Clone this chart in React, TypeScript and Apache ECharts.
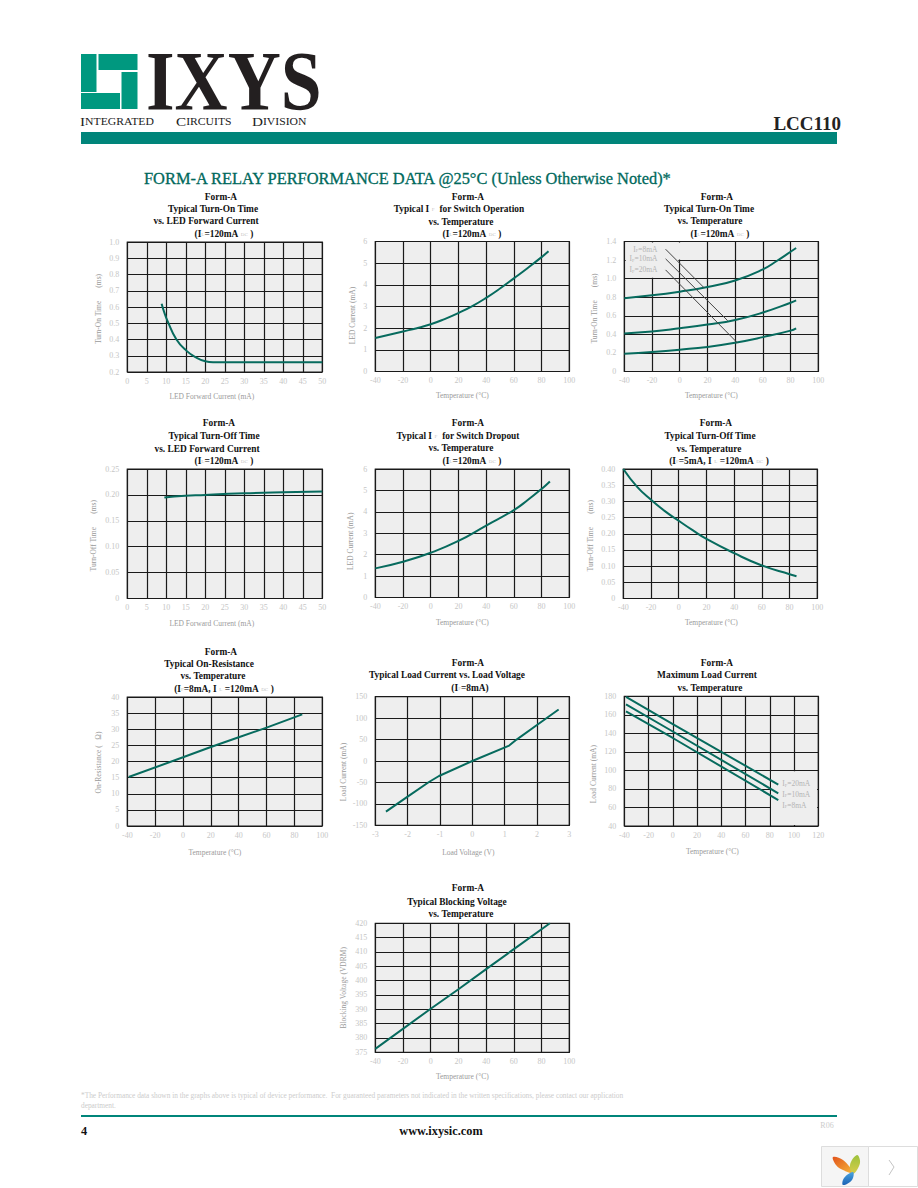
import React, { useEffect, useRef } from "react";
import * as echarts from "echarts";

// ---- data ----
const onTimeVsLed = [[8.8,0.62],[9.5,0.565],[10.3,0.515],[12.6,0.4],[15.2,0.33],[17.8,0.287],[20,0.266],[22,0.26],[30,0.26],[40,0.26],[50,0.26]];
const ledOperate = [[-40,1.55],[-20,1.85],[-10,2.0],[0,2.18],[10,2.42],[20,2.7],[30,3.02],[40,3.4],[50,3.83],[60,4.3],[70,4.78],[80,5.28],[85,5.55]];
const onTimeTop = [[-40,0.79],[-20,0.82],[0,0.86],[20,0.91],[40,0.98],[60,1.1],[70,1.19],[80,1.29],[84,1.33]];
const onTimeMid = [[-40,0.41],[-20,0.43],[0,0.465],[20,0.505],[40,0.555],[60,0.635],[80,0.74],[84,0.765]];
const onTimeLow = [[-40,0.19],[-20,0.21],[0,0.235],[20,0.265],[40,0.31],[60,0.37],[80,0.44],[84,0.465]];
const leader8 = [[-10.2,1.317],[17.7,0.9]];
const leader10 = [[-10.2,1.213],[34.6,0.547]];
const leader20 = [[-10.2,1.094],[41.5,0.31]];
const offTimeVsLed = [[9.5,0.195],[12,0.197],[20,0.2],[30,0.203],[40,0.205],[50,0.2065]];
const ledDropout = [[-40,1.36],[-20,1.67],[0,2.09],[20,2.64],[40,3.36],[60,4.08],[70,4.55],[80,5.07],[86,5.42]];
const offTimeVsTemp = [[-40,0.4],[-30,0.345],[-20,0.305],[-10,0.27],[0,0.24],[10,0.211],[20,0.184],[40,0.14],[60,0.102],[80,0.075],[85,0.069]];
const onResistance = [[-39,15.2],[0,21.3],[20,24.5],[40,27.5],[60,30.5],[85.6,34.6]];
const loadIV = [[-2.67,-118],[-2,-83],[-1.34,-49],[-1.03,-35],[0,0],[1.14,36],[1.37,50],[2,84],[2.67,120]];
const maxLoad20 = [[-38.6,179.3],[0,150],[87,84.7]];
const maxLoad10 = [[-38.6,171.4],[0,142],[87,75.3]];
const maxLoad8 = [[-38.6,163.8],[0,135],[87,68]];
const blocking = [[-40,376.2],[0,390.2],[20,397],[40,404],[60,411],[86,420]];

const tempTicks = { min: -40, max: 100, interval: 20 };
const ledTicks = { min: 0, max: 50, interval: 5 };

const F = "Liberation Serif";
const TEAL = "#076b5e";
const BAND = "#00857a";

const sub = (s: string) => `{s|${s}}`;
const b = (s: string) => `{t|${s}}`;
const IL120 = b("(I") + sub("L") + b("=120mA") + sub("  DC  ") + b(")");

// panels: plot box, axes, names
const panels: any[] = [
  { box:[127.3,242,195,130], x:ledTicks, y:{min:0.2,max:1,interval:0.1}, dec:1, xName:"LED Forward Current (mA)", xShift:-13, xGap:24, yName:"Turn-On Time       (ms)", yShift:2, yGap:29 },
  { box:[375.3,241.5,194,130], x:tempTicks, y:{min:0,max:6,interval:1}, dec:0, xName:"Temperature (°C)", xShift:-10, xGap:24, yName:"LED Current (mA)", yShift:9, yGap:23 },
  { box:[624.3,241.5,194,130], x:tempTicks, y:{min:0,max:1.4,interval:0.2}, dec:1, xName:"Temperature (°C)", xShift:-10, xGap:24, yName:"Turn-On Time       (ms)", yShift:2, yGap:30 },
  { box:[127.3,469,195,129.5], x:ledTicks, y:{min:0,max:0.25,interval:0.05}, dec:2, xName:"LED Forward Current (mA)", xShift:-13, xGap:25, yName:"Turn-Off Time       (ms)", yShift:2, yGap:34 },
  { box:[375.3,469,194,128.5], x:tempTicks, y:{min:0,max:6,interval:1}, dec:0, xName:"Temperature (°C)", xShift:-10, xGap:25, yName:"LED Current (mA)", yShift:8, yGap:25 },
  { box:[623.3,469,194,129.5], x:tempTicks, y:{min:0,max:0.4,interval:0.05}, dec:2, xName:"Temperature (°C)", xShift:-9, xGap:24, yName:"Turn-Off Time       (ms)", yShift:2, yGap:33 },
  { box:[127.3,697,195,129], x:tempTicks, y:{min:0,max:40,interval:5}, dec:0, xName:"Temperature (°C)", xShift:-10, xGap:26, yName:"On-Resistance (   Ω)", yShift:1, yGap:29 },
  { box:[375.3,696.7,194,128.6], x:{min:-3,max:3,interval:1}, y:{min:-150,max:150,interval:50}, dec:0, xName:"Load Voltage (V)", xShift:-4, xGap:27, yName:"Load Current (mA)", yShift:11, yGap:32 },
  { box:[624.3,696.3,194,129.7], x:{min:-40,max:120,interval:20}, y:{min:40,max:180,interval:20}, dec:0, xName:"Temperature (°C)", xShift:-9, xGap:25, yName:"Load Current (mA)", yShift:13, yGap:31 },
  { box:[375.3,923.3,194,129], x:tempTicks, y:{min:375,max:420,interval:5}, dec:0, xName:"Temperature (°C)", xShift:-10, xGap:24, yName:"Blocking Voltage (VDRM)", yShift:0, yGap:32 },
];

// title lines: centre x, centre y, rich text
const titleLines: [number, number, string][] = [
  [221,197,b("Form-A")],[213,209,b("Typical Turn-On Time")],[206,221,b("vs. LED Forward Current")],[224,234,IL120],
  [468,197,b("Form-A")],[459,209,b("Typical I")+sub("  F  ")+b(" for Switch Operation")],[461,222,b("vs. Temperature")],[472,234,IL120],
  [717,197,b("Form-A")],[709,209,b("Typical Turn-On Time")],[710,221,b("vs. Temperature")],[720,234,IL120],
  [219,423,b("Form-A")],[214,436,b("Typical Turn-Off Time")],[207,449,b("vs. LED Forward Current")],[224,461,IL120],
  [468,423,b("Form-A")],[458,436,b("Typical I")+sub("  F  ")+b(" for Switch Dropout")],[461,448,b("vs. Temperature")],[472,461,IL120],
  [716,423,b("Form-A")],[710,436,b("Typical Turn-Off Time")],[709,449,b("vs. Temperature")],[719,461,b("(I")+sub("F")+b("=5mA, I")+sub("  L  ")+b("=120mA")+sub("  DC  ")+b(")")],
  [221,652,b("Form-A")],[209,664,b("Typical On-Resistance")],[213,676,b("vs. Temperature")],[224,689,b("(I")+sub("F")+b("=8mA, I")+sub("  L  ")+b("=120mA")+sub("  DC  ")+b(")")],
  [468,663,b("Form-A")],[447,675,b("Typical Load Current vs. Load Voltage")],[470,688,b("(I")+sub("F")+b("=8mA)")],
  [717,663,b("Form-A")],[707,675,b("Maximum Load Current")],[710,688,b("vs. Temperature")],
  [468,888,b("Form-A")],[457,902,b("Typical Blocking Voltage")],[461,914,b("vs. Temperature")],
];

const rich = {
  t: { fontFamily: F, fontWeight: "bold", fontSize: 9.4, fill: "#111", color: "#111" },
  s: { fontFamily: F, fontSize: 5, fill: "#c4c4c4", color: "#c4c4c4" },
};
const noteRich = {
  a: { fontFamily: F, fontSize: 7.5, color: "#b4b4b4" },
  f: { fontFamily: F, fontSize: 4.5, color: "#b4b4b4", padding: [3, 0, 0, 0] },
};
const note = (v: string) => `{a|I}{f|F}{a|=${v}}`;

const curve = (i: number, data: number[][], smooth: boolean | number, extra: any = {}) => ({
  type: "line", xAxisIndex: i, yAxisIndex: i, data, smooth, showSymbol: false, symbol: "none",
  lineStyle: { color: TEAL, width: 2 }, silent: true, ...extra,
});
const leader = (i: number, data: number[][], label: string) => ({
  type: "line", xAxisIndex: i, yAxisIndex: i, symbol: "circle", symbolSize: 0.1, showSymbol: true, showAllSymbol: true, silent: true,
  itemStyle: { color: "#444" },
  lineStyle: { color: "#444", width: 1 },
  data: [{ value: data[0], label: { show: true, position: "left", distance: 8, formatter: label, rich: noteRich } }, { value: data[1] }],
  z: 3,
});
const hide = (areas: number[][]) => ({
  silent: true, itemStyle: { color: "#eeeeee", opacity: 1 }, label: { show: false },
  data: areas.map((a) => [{ coord: [a[0], a[1]] }, { coord: [a[2], a[3]] }]),
});
const endL = (txt: string, dy: number) => ({
  endLabel: { show: true, formatter: txt, rich: noteRich, distance: 4, offset: [0, dy] },
});

const series: any[] = [
  curve(0, onTimeVsLed, true),
  curve(1, ledOperate, true),
  curve(2, onTimeTop, true, { markArea: hide([[-39, 1.205, 19, 1.39], [-39, 1.01, -1, 1.21]]) }),
  curve(2, onTimeMid, true),
  curve(2, onTimeLow, true),
  leader(2, leader8, note("8mA")),
  leader(2, leader10, note("10mA")),
  leader(2, leader20, note("20mA")),
  curve(3, offTimeVsLed, true),
  curve(4, ledDropout, true),
  curve(5, offTimeVsTemp, true),
  curve(6, onResistance, false),
  curve(7, loadIV, false),
  curve(8, maxLoad20, false, { ...endL(note("20mA"), -1), markArea: hide([[81, 41, 119, 99]]) }),
  curve(8, maxLoad10, false, endL(note("10mA"), 1)),
  curve(8, maxLoad8, false, endL(note("8mA"), 5)),
  curve(9, blocking, false),
];

const txt = (x: number, y: number, text: string, style: any = {}, extra: any = {}) => ({
  type: "text", x, y, silent: true, z: 50,
  style: { text, fontFamily: F, fontSize: 10, fill: "#111", align: "left", verticalAlign: "middle", ...style }, ...extra,
});
const rect = (x: number, y: number, w: number, h: number, fill: string, stroke?: string) => ({
  type: "rect", silent: true, shape: { x, y, width: w, height: h }, style: { fill, stroke: stroke || "none", lineWidth: stroke ? 1 : 0 }, z: 40,
});

const scRich = (big: number, small: number) => ({
  a: { fontFamily: F, fontSize: big, fill: "#222", color: "#222" },
  c: { fontFamily: F, fontSize: small, fill: "#222", color: "#222" },
});

const graphic: any[] = [
  // logo mark
  rect(81, 54, 15.5, 38, "#00987f"),
  rect(81, 93, 39, 16, "#00987f"),
  rect(121.5, 72, 16, 37, "#00987f"),
  rect(98.5, 54, 39, 16, "#00987f"),
  txt(146, 82, "IXYS", { fontSize: 84, fontWeight: "bold", fill: "#231f20" }, { scaleX: 0.875 }),
  txt(80, 121, "{a|I}{c|NTEGRATED}", { rich: scRich(13, 10) }, { scaleX: 1.17 }),
  txt(176, 121, "{a|C}{c|IRCUITS}", { rich: scRich(13, 10) }, { scaleX: 1.17 }),
  txt(252, 121, "{a|D}{c|IVISION}", { rich: scRich(13, 10) }, { scaleX: 1.17 }),
  txt(841, 123, "LCC110", { fontSize: 19, fontWeight: "bold", align: "right", fill: "#222" }),
  rect(81, 132, 756, 12, BAND),
  txt(144, 178, "FORM-A RELAY PERFORMANCE DATA @25°C (Unless Otherwise Noted)*", { fontSize: 16.4, fill: "#00695c", stroke: "#00695c", lineWidth: 0.3 }),
  ...titleLines.map(([x, y, t]) => txt(x, y, t, { rich, align: "center" })),
  txt(81, 1095, "*The Performance data shown in the graphs above is typical of device performance.  For guaranteed parameters not indicated in the written specifications, please contact our application", { fontSize: 7.33, fill: "#cccccc" }),
  txt(81, 1105, "department.", { fontSize: 7.33, fill: "#cccccc" }),
  rect(81, 1115, 756, 2, BAND),
  txt(81, 1131, "4", { fontSize: 12.3, fontWeight: "bold" }),
  txt(441, 1131, "www.ixysic.com", { fontSize: 12.3, fontWeight: "bold", align: "center" }),
  txt(827, 1125, "R06", { fontSize: 8, fill: "#cccccc", align: "center" }),
  // corner widget
  rect(821.5, 1146.5, 47, 40, "#f5f5f5", "#dddddd"),
  rect(868.5, 1146.5, 49, 40, "#ffffff", "#dddddd"),
  { type: "polygon", silent: true, z: 41, shape: { points: [[833,1157],[843,1160],[853,1173],[843,1170],[836,1165]], smooth: 0.4 },
    style: { fill: new echarts.graphic.LinearGradient(0,0,1,1,[{offset:0,color:"#e2531b"},{offset:1,color:"#f6b73c"}]) } },
  { type: "polygon", silent: true, z: 41, shape: { points: [[857,1155],[860,1163],[853,1174],[850,1165]], smooth: 0.4 },
    style: { fill: new echarts.graphic.LinearGradient(0,0,0,1,[{offset:0,color:"#9cc23c"},{offset:1,color:"#d9cd4a"}]) } },
  { type: "polygon", silent: true, z: 41, shape: { points: [[853,1172],[852,1180],[843,1185],[844,1178]], smooth: 0.4 },
    style: { fill: new echarts.graphic.LinearGradient(0,0,0,1,[{offset:0,color:"#4aa3df"},{offset:1,color:"#1b63b5"}]) } },
  { type: "polyline", silent: true, z: 41, shape: { points: [[889,1160],[894,1167],[889,1175]] }, style: { stroke: "#c4c4c4", lineWidth: 1, fill: "none" } },
];

const option: any = {
  animation: false,
  backgroundColor: "#ffffff",
  grid: panels.map((p) => ({
    left: p.box[0], top: p.box[1], width: p.box[2], height: p.box[3],
    show: true, backgroundColor: "#eeeeee", borderColor: "#1a1a1a", borderWidth: 1.2, containLabel: false,
  })),
  xAxis: panels.map((p, i) => ({
    type: "value", gridIndex: i, ...p.x, name: p.xName, nameLocation: "middle", nameGap: p.xGap,
    nameTextStyle: { fontFamily: F, fontSize: 7.5, color: "#9a9a9a", verticalAlign: "middle",
      padding: p.xShift < 0 ? [0, -2 * p.xShift, 0, 0] : 0 },
    axisLine: { show: false }, axisTick: { show: false },
    axisLabel: { fontFamily: F, fontSize: 8, color: "#c6c6c6", margin: 5, showMinLabel: true, showMaxLabel: true, hideOverlap: false },
    splitLine: { show: true, lineStyle: { color: "#1a1a1a", width: 1.2 } },
  })),
  yAxis: panels.map((p, i) => ({
    type: "value", gridIndex: i, ...p.y, name: p.yName, nameLocation: "middle", nameGap: p.yGap, nameRotate: 90,
    nameTextStyle: { fontFamily: F, fontSize: 7.5, color: "#9a9a9a", verticalAlign: "middle",
      padding: p.yShift > 0 ? [0, 2 * p.yShift, 0, 0] : 0 },
    axisLine: { show: false }, axisTick: { show: false },
    axisLabel: { fontFamily: F, fontSize: 8, color: "#c6c6c6", margin: 8, showMinLabel: true, showMaxLabel: true, hideOverlap: false,
      formatter: (v: number) => (v === 0 ? "0" : v.toFixed(p.dec)) },
    splitLine: { show: true, lineStyle: { color: "#1a1a1a", width: 1.2 } },
  })),
  series,
  graphic,
};

export default function App() {
  const ref = useRef<HTMLDivElement>(null);
  useEffect(() => {
    document.body.style.margin = "0";
    const chart = echarts.init(ref.current as HTMLDivElement, undefined, { renderer: "svg" });
    chart.setOption(option);
    return () => chart.dispose();
  }, []);
  return <div ref={ref} style={{ width: 918, height: 1188 }} />;
}
